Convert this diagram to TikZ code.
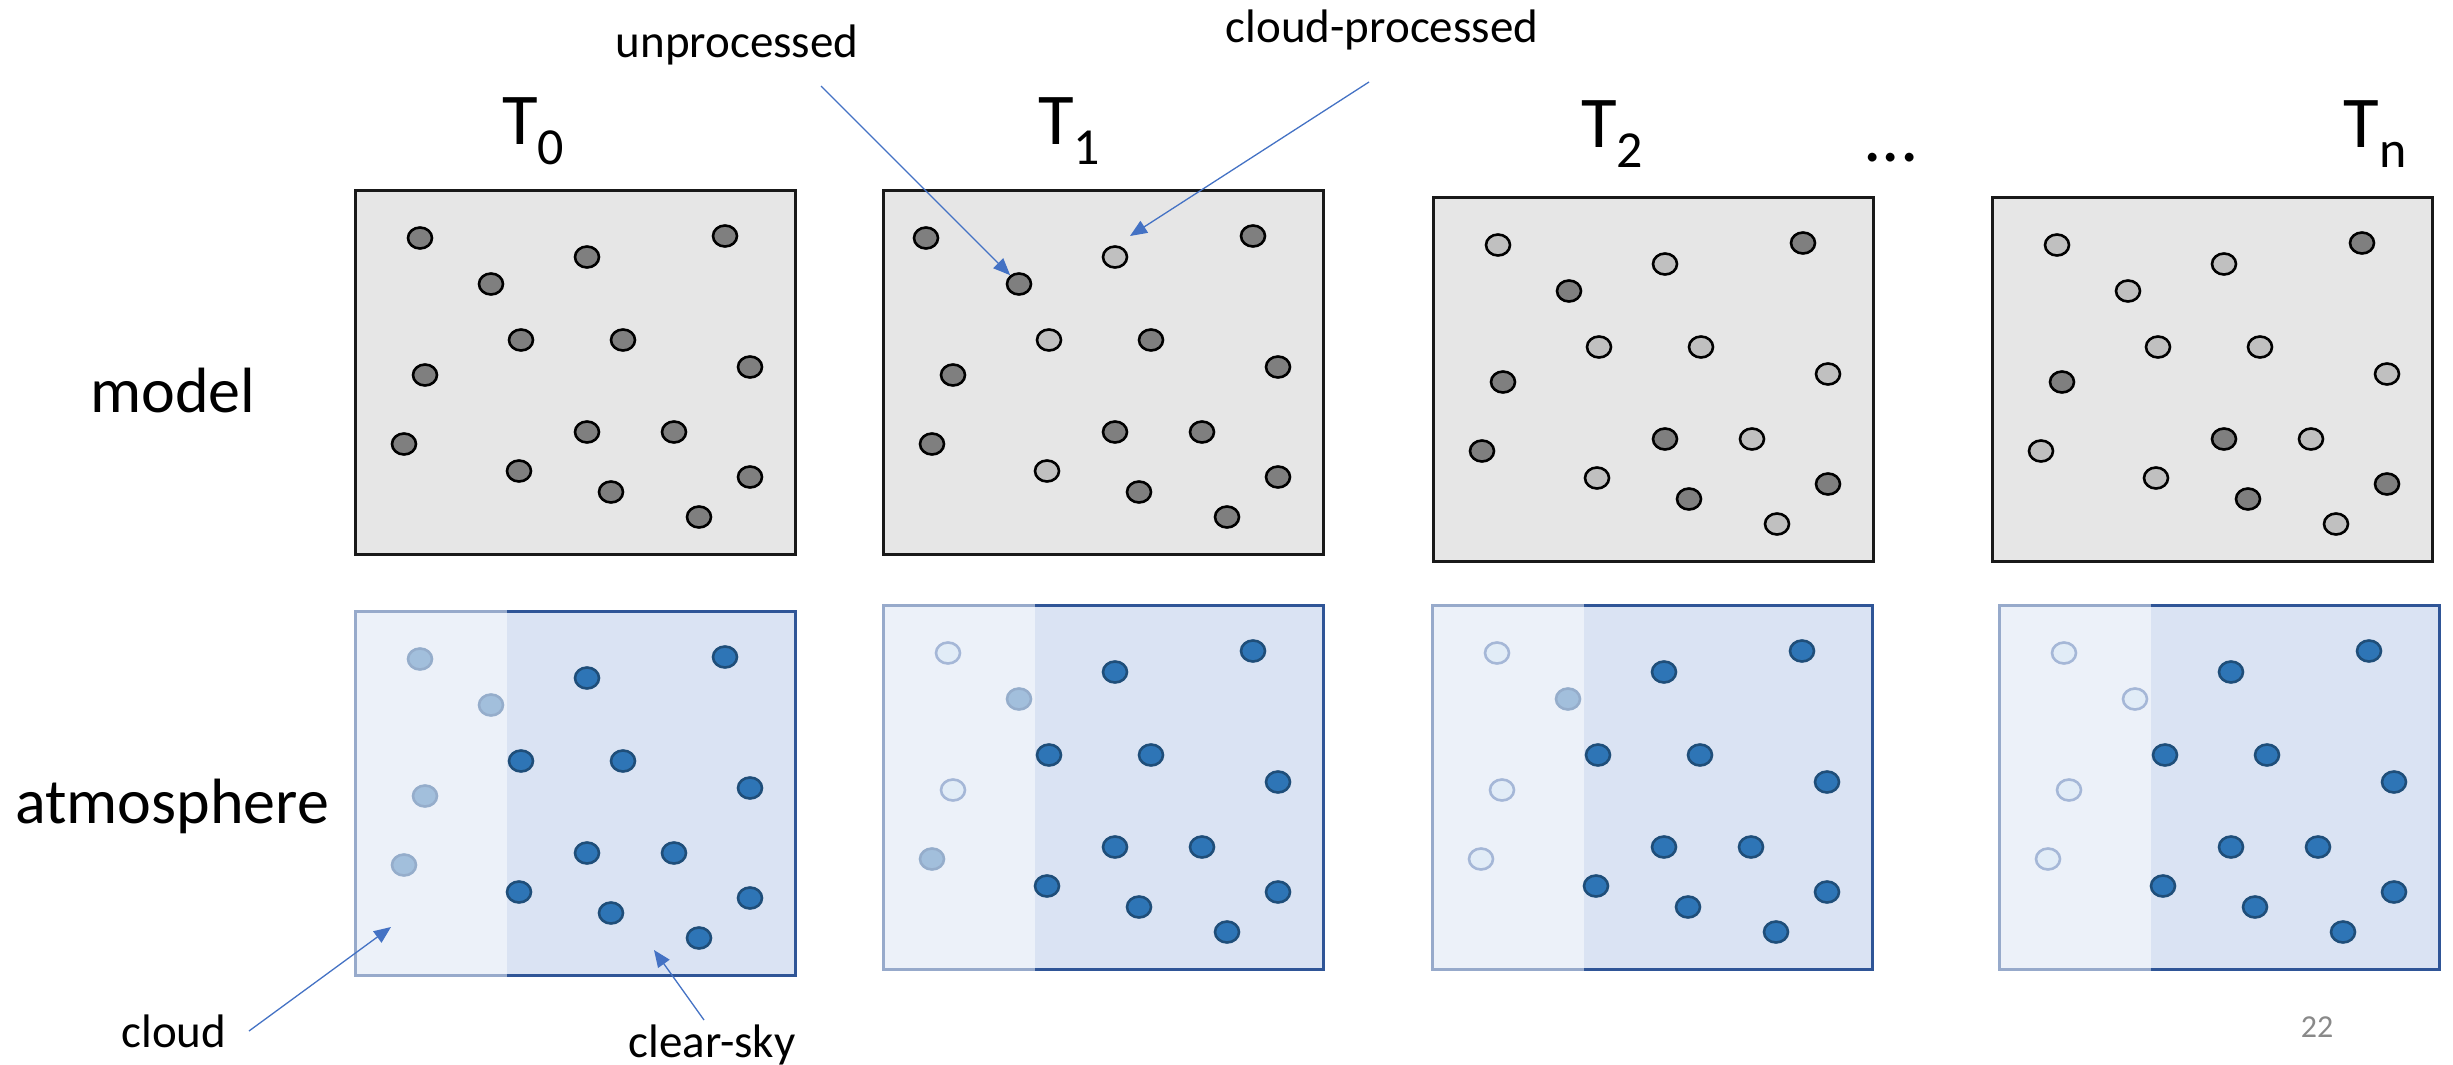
\documentclass[tikz,border=0pt]{standalone}
\usepackage{fontspec}
\setmainfont{Carlito}
\usetikzlibrary{shapes.geometric,arrows.meta}

\definecolor{boxgray}{HTML}{E6E6E6}
\definecolor{dotdark}{HTML}{7F7F7F}
\definecolor{dotlight}{HTML}{C0C0C0}
\definecolor{skyfill}{HTML}{DAE3F3}
\definecolor{skyline}{HTML}{2F5597}
\definecolor{bluedot}{HTML}{2E75B6}
\definecolor{bluedotline}{HTML}{1F4E79}
\definecolor{fadedot}{HTML}{A2BFDC}
\definecolor{fadedotline}{HTML}{95ADCB}
\definecolor{hollowdot}{HTML}{E1ECF7}
\definecolor{hollowline}{HTML}{A5B7D7}
\definecolor{arrowblue}{HTML}{4472C4}
\definecolor{pagegray}{HTML}{898989}

\newcommand{\tsub}[1]{\raisebox{-20pt}{\fontsize{52}{60}\selectfont #1}}

% particle offsets inside a panel (first x is set per panel)
\def\partx{{\firstx,137,233,371,167,269,71,396,50,233,320,165,257,396,345}}
\def\party{{49,95,68,47,151,151,186,178,255,243,243,282,303,288,328}}

\begin{document}
\begin{tikzpicture}[x=1pt,y=-1pt,
    panel/.style={anchor=north west,minimum width=440pt,minimum height=364pt,inner sep=0pt,line width=2.5pt},
    modelbox/.style={panel,draw=black!90,fill=boxgray},
    atmobox/.style={panel,draw=skyline,fill=skyfill},
    particle/.style={ellipse,minimum width=24pt,minimum height=21pt,inner sep=0pt,line width=2.6pt},
    darkp/.style={particle,draw=black,fill=dotdark},
    lightp/.style={particle,draw=black,fill=dotlight},
    bluep/.style={particle,draw=bluedotline,fill=bluedot},
    fadep/.style={particle,draw=fadedotline,fill=fadedot},
    hollowp/.style={particle,draw=hollowline,fill=hollowdot},
    title/.style={anchor=base,inner sep=0pt,font=\fontsize{73}{80}\selectfont},
    rowname/.style={anchor=base,inner sep=0pt,font=\fontsize{64}{70}\selectfont},
    note/.style={anchor=base,inner sep=0pt,font=\fontsize{47}{56}\selectfont},
    pointer/.style={draw=arrowblue,line width=1.3pt,-{Triangle[length=17pt,width=14pt]}}
  ]

\useasboundingbox (0,0) rectangle (2453,1065);

% Time step titles
\node[title] (t0) at (533,144) {T\tsub{0}};
\node[title] (t1) at (1069,144) {T\tsub{1}};
\node[title] (t2) at (1612,147) {T\tsub{2}};
\node[title] (more) at (1891,161) {...};
\node[title] (tn) at (2375,147) {T\tsub{n}};

% Row names
\node[rowname] (model) at (173,412) {model};
\node[rowname] (atmos) at (172,823) {atmosphere};

% Model panels with their particles
\foreach \nm/\bx/\by/\firstx/\kinds in {
    m1/354/189/66/{darkp,darkp,darkp,darkp,darkp,darkp,darkp,darkp,darkp,darkp,darkp,darkp,darkp,darkp,darkp},
    m2/882/189/44/{darkp,darkp,lightp,darkp,lightp,darkp,darkp,darkp,darkp,darkp,darkp,lightp,darkp,darkp,darkp},
    m3/1432/196/66/{lightp,darkp,lightp,darkp,lightp,lightp,darkp,lightp,darkp,darkp,lightp,lightp,darkp,darkp,lightp},
    m4/1991/196/66/{lightp,lightp,lightp,darkp,lightp,lightp,darkp,lightp,lightp,darkp,lightp,lightp,darkp,darkp,lightp}}{
  \node[modelbox] (\nm) at (\bx,\by) {};
  \foreach \k [count=\i] in \kinds {
    \pgfmathsetmacro\dx{\partx[\i-1]}
    \pgfmathsetmacro\dy{\party[\i-1]}
    \node[\k] (\nm-\i) at (\bx+\dx,\by+\dy) {};
  }
}

% Atmosphere panels: cloudy strip on the left, clear sky on the right
\foreach \nm/\bx/\by/\firstx/\kinds in {
    a1/354/610/66/{fadep,fadep,bluep,bluep,bluep,bluep,fadep,bluep,fadep,bluep,bluep,bluep,bluep,bluep,bluep},
    a2/882/604/66/{hollowp,fadep,bluep,bluep,bluep,bluep,hollowp,bluep,fadep,bluep,bluep,bluep,bluep,bluep,bluep},
    a3/1431/604/66/{hollowp,fadep,bluep,bluep,bluep,bluep,hollowp,bluep,hollowp,bluep,bluep,bluep,bluep,bluep,bluep},
    a4/1998/604/66/{hollowp,hollowp,bluep,bluep,bluep,bluep,hollowp,bluep,hollowp,bluep,bluep,bluep,bluep,bluep,bluep}}{
  \node[atmobox] (\nm) at (\bx,\by) {};
  \fill[white,opacity=.5] (\bx-1,\by-1) rectangle (\bx+153,\by+367);
  \foreach \k [count=\i] in \kinds {
    \pgfmathsetmacro\dx{\partx[\i-1]}
    \pgfmathsetmacro\dy{\party[\i-1]}
    \node[\k] (\nm-\i) at (\bx+\dx,\by+\dy) {};
  }
}

% Callouts
\node[note] (unproc) at (737,58) {unprocessed};
\node[note] (proc) at (1382,43) {cloud-processed};
\node[note] (cloud) at (174,1047) {cloud};
\node[note] (clear) at (712,1057) {clear-sky};

\coordinate (unprocTail) at (821,86);
\coordinate (procTail) at (1369,82);
\coordinate (procTip) at (1130,236);
\coordinate (cloudTail) at (249,1031);
\coordinate (cloudTip) at (391,927);
\coordinate (clearTail) at (704,1020);
\coordinate (clearTip) at (654,950);

\draw[pointer] (unprocTail) -- (m2-2);
\draw[pointer] (procTail) -- (procTip);
\draw[pointer] (cloudTail) -- (cloudTip);
\draw[pointer] (clearTail) -- (clearTip);

% Slide number
\node[anchor=base,inner sep=0pt,text=pagegray,font=\fontsize{32}{38}\selectfont] (page) at (2317,1037) {22};

\end{tikzpicture}
\end{document}
